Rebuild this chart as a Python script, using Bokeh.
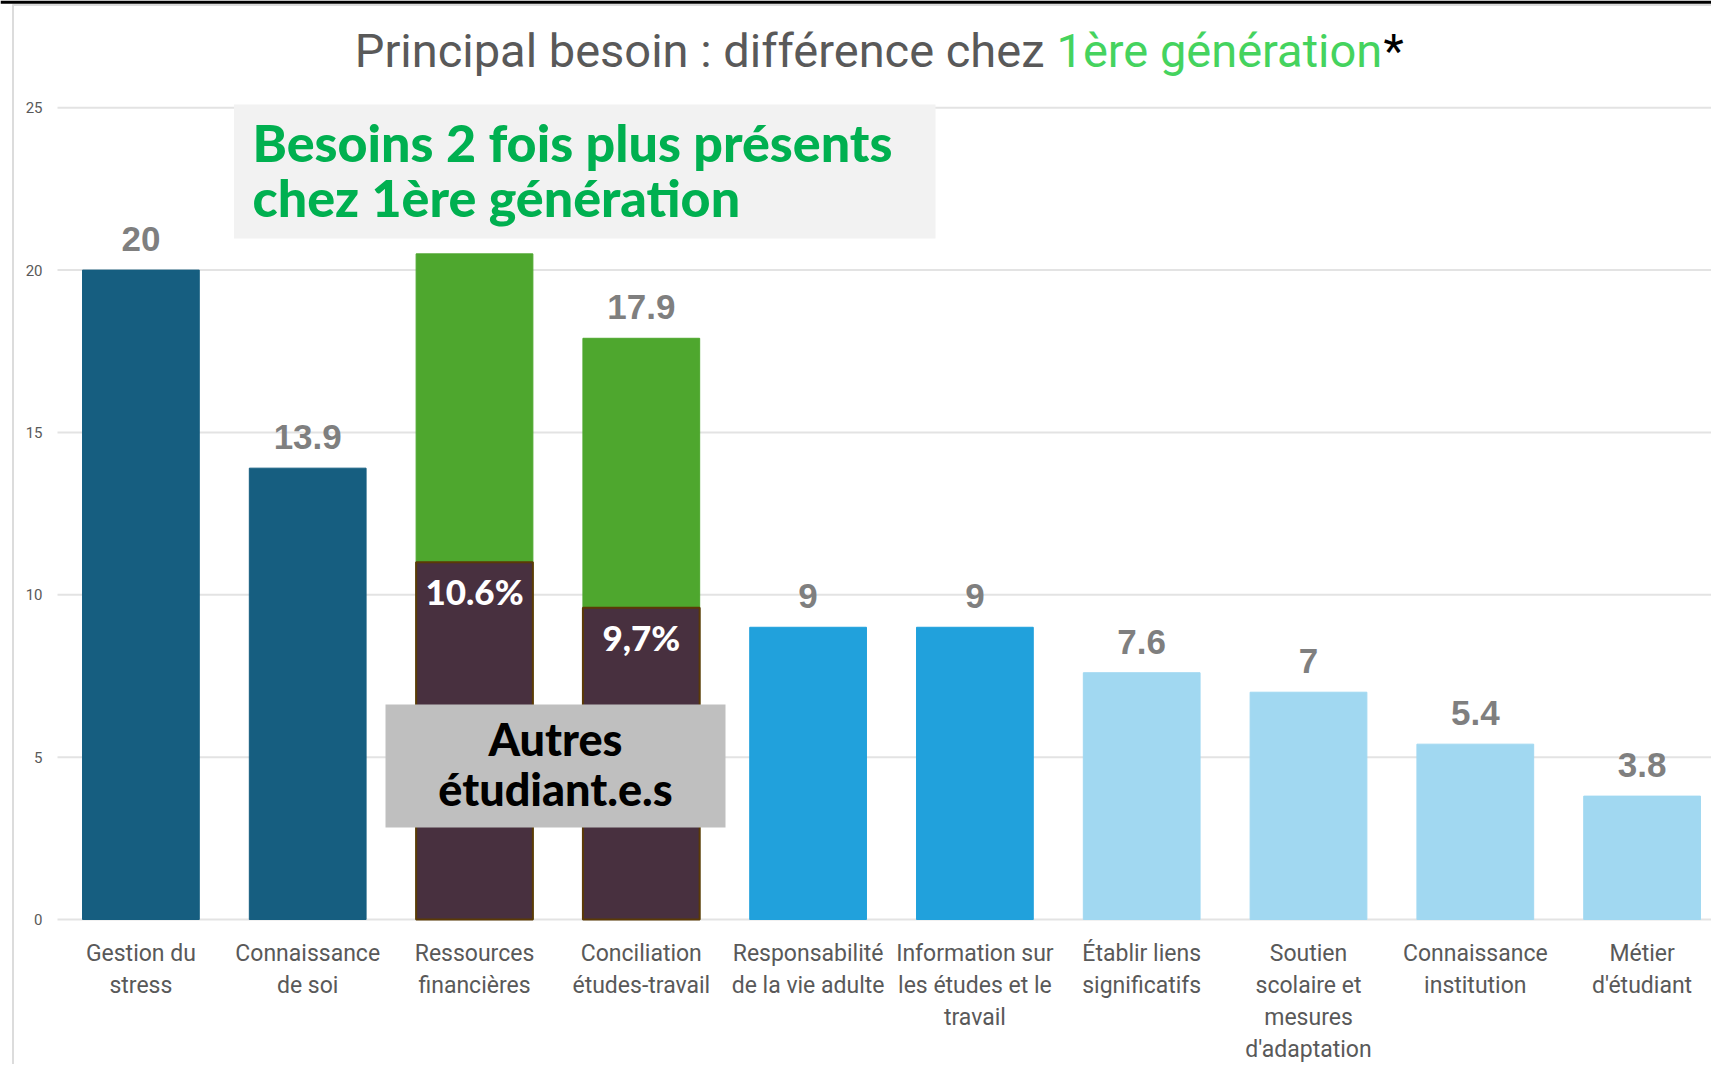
from bokeh.plotting import figure
from bokeh.models import Range1d, FixedTicker
from bokeh.core.properties import value
from bokeh.embed import file_html
from bokeh.resources import INLINE

# ---------------- data ----------------
categories = [
    "Gestion du\nstress",
    "Connaissance\nde soi",
    "Ressources\nfinancières",
    "Conciliation\nétudes-travail",
    "Responsabilité\nde la vie adulte",
    "Information sur\nles études et le\ntravail",
    "Établir liens\nsignificatifs",
    "Soutien\nscolaire et\nmesures\nd'adaptation",
    "Connaissance\ninstitution",
    "Métier\nd'étudiant",
]
first_gen = [20, 13.9, 20.5, 17.9, 9, 9, 7.6, 7, 5.4, 3.8]
value_labels = ["20", "13.9", "", "17.9", "9", "9", "7.6", "7", "5.4", "3.8"]
other_idx = [2, 3]
other_students = [11.0, 9.6]
other_labels = ["10.6%", "9,7%"]
y_ticks = [0, 5, 10, 15, 20, 25]
y_tick_labels = ["0", "5", "10", "15", "20", "25"]

bar_colors = ["#165E80", "#165E80", "#4EA72E", "#4EA72E", "#21A1DC",
              "#21A1DC", "#A1D8F1", "#A1D8F1", "#A1D8F1", "#A1D8F1"]

# ---------------- layout (page pixels) ----------------
W, H = 1711, 1064
PLOT_LEFT = 57     # where the value grid starts
ZERO_Y = 919
PX = 32.47         # pixels per unit
STEP = 166.8       # pixels per category


def fx(X):
    return (X - PLOT_LEFT) / STEP


def fy(Y):
    return (ZERO_Y - Y) / PX


X0, X1 = fx(0), fx(W)
Y0, Y1 = fy(H), fy(0)

p = figure(width=W, height=H, output_backend="svg", toolbar_location=None,
           x_range=Range1d(X0, X1), y_range=Range1d(Y0, Y1),
           min_border_left=0, min_border_right=0, min_border_top=0,
           min_border_bottom=0)
p.outline_line_color = None
p.background_fill_color = "white"
p.border_fill_color = "white"
p.xaxis.visible = False
p.yaxis.visible = False
p.xgrid.visible = False
p.ygrid.visible = False

# frame decorations: black band on top, light border top and left
p.quad(left=[X0], right=[X1], top=[Y1], bottom=[fy(3.3)],
       fill_color="black", line_color=None)
p.segment(x0=[fx(12)], x1=[X1], y0=[fy(4.6)], y1=[fy(4.6)],
          line_color="#DCDCDC", line_width=2)
p.segment(x0=[fx(12.5)], x1=[fx(12.5)], y0=[fy(4)], y1=[Y0],
          line_color="#DCDCDC", line_width=2)

# value grid and tick labels (from the tick array)
p.segment(x0=[0] * len(y_ticks), x1=[X1] * len(y_ticks), y0=y_ticks,
          y1=y_ticks, line_color="#E3E3E3", line_width=2)
p.text(x=[fx(42)] * len(y_ticks), y=y_ticks, text=y_tick_labels,
       text_align="right", text_baseline="middle",
       text_font=value("Roboto"), text_font_size="15px",
       text_color="#595959")

# bars
xs = [i + 0.5 for i in range(len(categories))]
p.vbar(x=xs, top=first_gen, bottom=0, width=0.70, color=bar_colors)

ox = [xs[i] for i in other_idx]
p.vbar(x=ox, top=other_students, bottom=0, width=0.70,
       fill_color="#48303F", line_color="#5B3A06", line_width=2)

# value labels
p.text(x=xs, y=[v + 31 / PX for v in first_gen], text=value_labels,
       text_align="center", text_baseline="alphabetic",
       text_font=value("Liberation Sans"), text_font_style="bold",
       text_font_size="35px", text_color="#7F7F7F")

p.text(x=ox, y=[v - 29 / PX for v in other_students], text=other_labels,
       text_align="center", text_baseline="alphabetic",
       text_font=value("Lato Black"),
       text_font_size="35px", text_color="white")

# category labels (one text per line)
lx, ly, lt = [], [], []
for i, c in enumerate(categories):
    for j, line in enumerate(c.split("\n")):
        lx.append(xs[i])
        ly.append(fy(952.7 + j * 32.2))
        lt.append(line)
p.text(x=lx, y=ly, text=lt, text_align="center", text_baseline="middle",
       text_font=value("Roboto"), text_font_size="23px",
       text_color="#595959")

# title
ty = fy(50)
p.text(x=[fx(1044)], y=[ty], text=["Principal besoin : différence chez"],
       text_align="right", text_baseline="alphabetic",
       text_font=value("Roboto"), text_font_size="47px",
       text_color="#595959")
p.text(x=[fx(1056)], y=[ty], text=["1ère génération"],
       text_align="left", text_baseline="alphabetic",
       text_font=value("Roboto"), text_font_size="47px",
       text_color="#45D35E")
p.text(x=[fx(1383)], y=[ty], text=["*"],
       text_align="left", text_baseline="alphabetic",
       text_font=value("Roboto"), text_font_size="47px",
       text_color="black")

# annotation box 1
p.quad(left=[fx(233.5)], right=[fx(935)], top=[fy(104)], bottom=[fy(238)],
       fill_color="#F2F2F2", line_color=None)
p.text(x=[fx(252), fx(252)], y=[fy(141), fy(196.7)],
       text=["Besoins 2 fois plus présents", "chez 1ère génération"],
       text_align="left", text_baseline="alphabetic",
       text_font=value("Lato Black"),
       text_font_size="52px", text_color="#00B050")

# annotation box 2
p.quad(left=[fx(385)], right=[fx(725)], top=[fy(704)], bottom=[fy(827)],
       fill_color="#BFBFBF", line_color=None)
p.text(x=[fx(555), fx(555)], y=[fy(738), fy(788.5)],
       text=["Autres", "étudiant.e.s"],
       text_align="center", text_baseline="alphabetic",
       text_font=value("Lato Black"),
       text_font_size="45px", text_color="black")

open("out.html", "w").write(file_html(p, INLINE))
